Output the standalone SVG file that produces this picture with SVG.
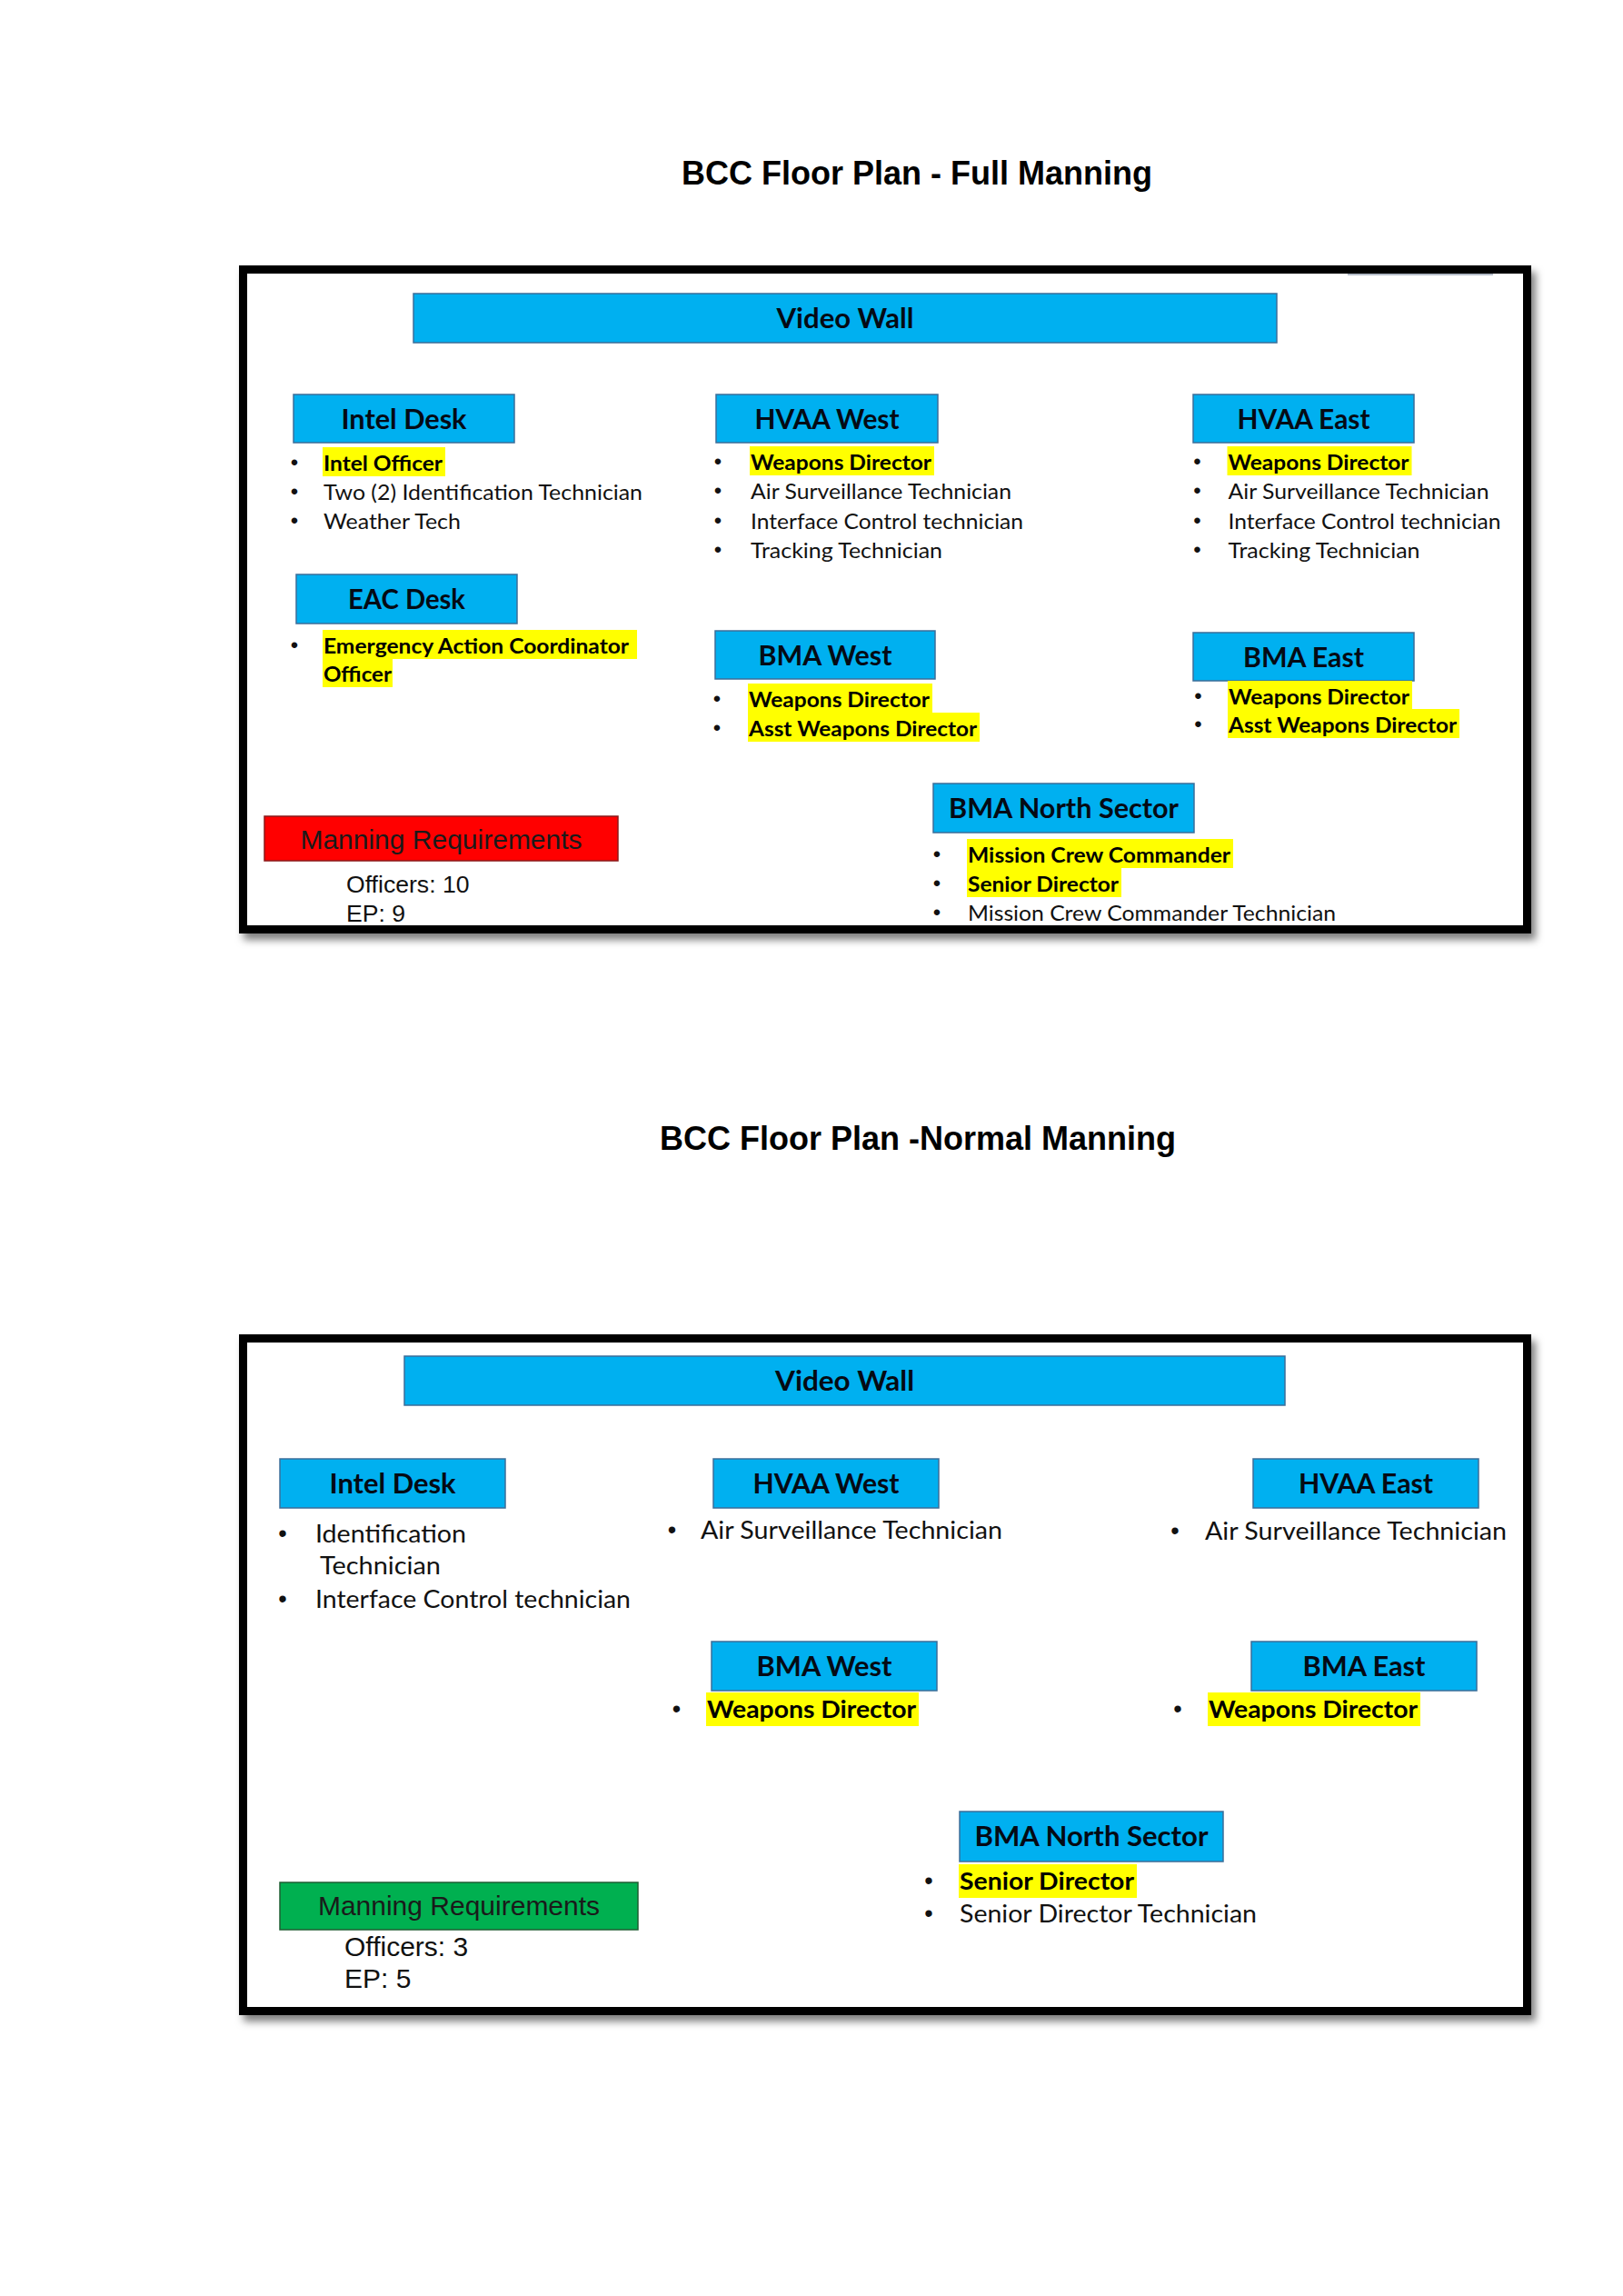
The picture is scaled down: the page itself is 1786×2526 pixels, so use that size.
<svg xmlns="http://www.w3.org/2000/svg" width="1786" height="2526" viewBox="0 0 1786 2526">
<defs>
<filter id="shadow" x="-5%" y="-5%" width="112%" height="115%">
<feDropShadow dx="5" dy="7" stdDeviation="4" flood-color="#000" flood-opacity="0.5"/>
</filter>
<style>
.title{font-family:"Liberation Sans",Arial,sans-serif;font-weight:700;font-size:36px;fill:#000;text-anchor:middle}
.frame{fill:#fff;stroke:#000;stroke-width:9}
.box{fill:#00B0F0;stroke:#3B6E99;stroke-width:1.5}
.hdr{font-family:Lato,"Open Sans",sans-serif;font-weight:700;font-size:30.5px;fill:#050a14;text-anchor:middle}
.l1{font-family:Lato,"Open Sans",sans-serif;font-size:23.5px;fill:#111}
.l2{font-family:Lato,"Open Sans",sans-serif;font-size:27px;fill:#111}
.b{font-weight:700;fill:#000}
.hl{fill:#FFFF00}
.bu1{font-family:"Liberation Sans",Arial,sans-serif;font-size:24px;fill:#111;text-anchor:middle}
.bu2{font-family:"Liberation Sans",Arial,sans-serif;font-size:27px;fill:#111;text-anchor:middle}
.mr{font-family:"Liberation Sans",Arial,sans-serif;font-size:30px;fill:#1a1a1a;text-anchor:middle}
.cnt1{font-family:"Liberation Sans",Arial,sans-serif;font-size:26.6px;fill:#111}
.cnt2{font-family:"Liberation Sans",Arial,sans-serif;font-size:30px;fill:#111}
</style>
</defs>
<rect width="1786" height="2526" fill="#fff"/>

<text class="title" x="1009" y="203">BCC Floor Plan - Full Manning</text>
<text class="title" x="1010" y="1265">BCC Floor Plan -Normal Manning</text>

<!-- ===== Frame 1: Full Manning ===== -->
<g id="frame-full">
<rect class="frame" x="267.5" y="296.5" width="1413" height="726" filter="url(#shadow)"/>
<line x1="1483" y1="302" x2="1643" y2="302" stroke="#6a7a90" stroke-width="2" opacity="0.5"/>
</g>

<g id="f1-video-wall">
<rect class="box" x="455" y="323" width="950" height="54"/>
<text class="hdr" x="930" y="361" textLength="151" lengthAdjust="spacingAndGlyphs">Video Wall</text>
</g>

<g id="f1-intel-desk">
<rect class="box" x="323" y="434" width="243" height="53"/>
<text class="hdr" x="444.5" y="472" textLength="138" lengthAdjust="spacingAndGlyphs">Intel Desk</text>
<rect class="hl" x="355" y="492" width="135" height="32"/>
<text class="bu1" x="324" y="517">•</text>
<text class="l1 b" x="356" y="518" textLength="131" lengthAdjust="spacingAndGlyphs">Intel Officer</text>
<text class="bu1" x="324" y="549">•</text>
<text class="l1" x="356" y="550" textLength="351" lengthAdjust="spacingAndGlyphs">Two (2) Identification Technician</text>
<text class="bu1" x="324" y="581">•</text>
<text class="l1" x="356" y="582" textLength="151" lengthAdjust="spacingAndGlyphs">Weather Tech</text>
</g>

<g id="f1-hvaa-west">
<rect class="box" x="788" y="434" width="244" height="53"/>
<text class="hdr" x="910" y="472" textLength="159" lengthAdjust="spacingAndGlyphs">HVAA West</text>
<rect class="hl" x="825" y="491" width="203" height="32"/>
<text class="bu1" x="790" y="516">•</text>
<text class="l1 b" x="826" y="517" textLength="199" lengthAdjust="spacingAndGlyphs">Weapons Director</text>
<text class="bu1" x="790" y="548">•</text>
<text class="l1" x="826" y="549" textLength="287" lengthAdjust="spacingAndGlyphs">Air Surveillance Technician</text>
<text class="bu1" x="790" y="581">•</text>
<text class="l1" x="826" y="582" textLength="300" lengthAdjust="spacingAndGlyphs">Interface Control technician</text>
<text class="bu1" x="790" y="613">•</text>
<text class="l1" x="826" y="614" textLength="211" lengthAdjust="spacingAndGlyphs">Tracking Technician</text>
</g>

<g id="f1-hvaa-east">
<rect class="box" x="1313" y="434" width="243" height="53"/>
<text class="hdr" x="1434.5" y="472" textLength="146" lengthAdjust="spacingAndGlyphs">HVAA East</text>
<rect class="hl" x="1350.5" y="491" width="203" height="32"/>
<text class="bu1" x="1317.5" y="516">•</text>
<text class="l1 b" x="1351.5" y="517" textLength="199" lengthAdjust="spacingAndGlyphs">Weapons Director</text>
<text class="bu1" x="1317.5" y="548">•</text>
<text class="l1" x="1351.5" y="549" textLength="287" lengthAdjust="spacingAndGlyphs">Air Surveillance Technician</text>
<text class="bu1" x="1317.5" y="581">•</text>
<text class="l1" x="1351.5" y="582" textLength="300" lengthAdjust="spacingAndGlyphs">Interface Control technician</text>
<text class="bu1" x="1317.5" y="613">•</text>
<text class="l1" x="1351.5" y="614" textLength="211" lengthAdjust="spacingAndGlyphs">Tracking Technician</text>
</g>

<g id="f1-eac-desk">
<rect class="box" x="326" y="632" width="243" height="54"/>
<text class="hdr" x="447.5" y="670" textLength="129" lengthAdjust="spacingAndGlyphs">EAC Desk</text>
<rect class="hl" x="355" y="693" width="346" height="32"/>
<rect class="hl" x="355" y="724" width="77" height="32"/>
<text class="bu1" x="324" y="718">•</text>
<text class="l1 b" x="356" y="719" textLength="336" lengthAdjust="spacingAndGlyphs">Emergency Action Coordinator</text>
<text class="l1 b" x="356" y="750" textLength="75" lengthAdjust="spacingAndGlyphs">Officer</text>
</g>

<g id="f1-bma-west">
<rect class="box" x="787" y="694" width="242" height="53"/>
<text class="hdr" x="908" y="732" textLength="147" lengthAdjust="spacingAndGlyphs">BMA West</text>
<rect class="hl" x="823" y="752" width="203" height="32"/>
<rect class="hl" x="823" y="784" width="255" height="32"/>
<text class="bu1" x="789" y="777">•</text>
<text class="l1 b" x="824" y="778" textLength="199" lengthAdjust="spacingAndGlyphs">Weapons Director</text>
<text class="bu1" x="789" y="809">•</text>
<text class="l1 b" x="824" y="810" textLength="251" lengthAdjust="spacingAndGlyphs">Asst Weapons Director</text>
</g>

<g id="f1-bma-east">
<rect class="box" x="1313" y="696" width="243" height="53"/>
<text class="hdr" x="1434.5" y="734" textLength="133" lengthAdjust="spacingAndGlyphs">BMA East</text>
<rect class="hl" x="1351" y="749" width="203" height="32"/>
<rect class="hl" x="1351" y="780" width="255" height="32"/>
<text class="bu1" x="1318.5" y="774">•</text>
<text class="l1 b" x="1352" y="775" textLength="199" lengthAdjust="spacingAndGlyphs">Weapons Director</text>
<text class="bu1" x="1318.5" y="805">•</text>
<text class="l1 b" x="1352" y="806" textLength="251" lengthAdjust="spacingAndGlyphs">Asst Weapons Director</text>
</g>

<g id="f1-bma-north">
<rect class="box" x="1027" y="862" width="287" height="54"/>
<text class="hdr" x="1170.5" y="900" textLength="253" lengthAdjust="spacingAndGlyphs">BMA North Sector</text>
<rect class="hl" x="1064" y="923" width="293" height="32"/>
<rect class="hl" x="1064" y="955" width="170" height="32"/>
<text class="bu1" x="1031" y="948">•</text>
<text class="l1 b" x="1065" y="949" textLength="289" lengthAdjust="spacingAndGlyphs">Mission Crew Commander</text>
<text class="bu1" x="1031" y="980">•</text>
<text class="l1 b" x="1065" y="981" textLength="166" lengthAdjust="spacingAndGlyphs">Senior Director</text>
<text class="bu1" x="1031" y="1012">•</text>
<text class="l1" x="1065" y="1013" textLength="405" lengthAdjust="spacingAndGlyphs">Mission Crew Commander Technician</text>
</g>

<g id="f1-manning">
<rect x="291" y="898" width="389" height="49" fill="#FF0000" stroke="#8B1A1A" stroke-width="1.5"/>
<text class="mr" x="485.5" y="934">Manning Requirements</text>
<text class="cnt1" x="381" y="982">Officers: 10</text>
<text class="cnt1" x="381" y="1014">EP: 9</text>
</g>

<!-- ===== Frame 2: Normal Manning ===== -->
<g id="frame-normal">
<rect class="frame" x="267.5" y="1472.5" width="1413" height="740" filter="url(#shadow)"/>
</g>

<g id="f2-video-wall">
<rect class="box" x="445" y="1492" width="969" height="54"/>
<text class="hdr" x="929.5" y="1530" textLength="153" lengthAdjust="spacingAndGlyphs">Video Wall</text>
</g>

<g id="f2-intel-desk">
<rect class="box" x="308" y="1605" width="248" height="54"/>
<text class="hdr" x="432" y="1643" textLength="139" lengthAdjust="spacingAndGlyphs">Intel Desk</text>
<text class="bu2" x="311" y="1696">•</text>
<text class="l2" x="347" y="1697" textLength="166" lengthAdjust="spacingAndGlyphs">Identification</text>
<text class="l2" x="352" y="1732" textLength="133" lengthAdjust="spacingAndGlyphs">Technician</text>
<text class="bu2" x="311" y="1768">•</text>
<text class="l2" x="347" y="1769" textLength="347" lengthAdjust="spacingAndGlyphs">Interface Control technician</text>
</g>

<g id="f2-hvaa-west">
<rect class="box" x="785" y="1605" width="248" height="54"/>
<text class="hdr" x="909" y="1643" textLength="161" lengthAdjust="spacingAndGlyphs">HVAA West</text>
<text class="bu2" x="739.5" y="1692">•</text>
<text class="l2" x="771" y="1693" textLength="332" lengthAdjust="spacingAndGlyphs">Air Surveillance Technician</text>
</g>

<g id="f2-hvaa-east">
<rect class="box" x="1379" y="1605" width="248" height="54"/>
<text class="hdr" x="1503" y="1643" textLength="148" lengthAdjust="spacingAndGlyphs">HVAA East</text>
<text class="bu2" x="1293" y="1693">•</text>
<text class="l2" x="1326" y="1694" textLength="332" lengthAdjust="spacingAndGlyphs">Air Surveillance Technician</text>
</g>

<g id="f2-bma-west">
<rect class="box" x="783" y="1806" width="248" height="54"/>
<text class="hdr" x="907" y="1844" textLength="149" lengthAdjust="spacingAndGlyphs">BMA West</text>
<rect class="hl" x="777" y="1862" width="234" height="37"/>
<text class="bu2" x="744.5" y="1889">•</text>
<text class="l2 b" x="778" y="1890" textLength="230" lengthAdjust="spacingAndGlyphs">Weapons Director</text>
</g>

<g id="f2-bma-east">
<rect class="box" x="1377" y="1806" width="248" height="54"/>
<text class="hdr" x="1501" y="1844" textLength="135" lengthAdjust="spacingAndGlyphs">BMA East</text>
<rect class="hl" x="1329" y="1862" width="234" height="37"/>
<text class="bu2" x="1296" y="1889">•</text>
<text class="l2 b" x="1330" y="1890" textLength="230" lengthAdjust="spacingAndGlyphs">Weapons Director</text>
</g>

<g id="f2-bma-north">
<rect class="box" x="1056" y="1993" width="290" height="55"/>
<text class="hdr" x="1201" y="2031" textLength="257" lengthAdjust="spacingAndGlyphs">BMA North Sector</text>
<rect class="hl" x="1055" y="2051" width="196" height="37"/>
<text class="bu2" x="1022" y="2078">•</text>
<text class="l2 b" x="1056" y="2079" textLength="192" lengthAdjust="spacingAndGlyphs">Senior Director</text>
<text class="bu2" x="1022" y="2114">•</text>
<text class="l2" x="1056" y="2115" textLength="327" lengthAdjust="spacingAndGlyphs">Senior Director Technician</text>
</g>

<g id="f2-manning">
<rect x="308" y="2071" width="394" height="52" fill="#00B050" stroke="#1E5E32" stroke-width="1.5"/>
<text class="mr" x="505" y="2107">Manning Requirements</text>
<text class="cnt2" x="379" y="2152">Officers: 3</text>
<text class="cnt2" x="379" y="2187">EP: 5</text>
</g>

<g id="connectors"></g>
</svg>
